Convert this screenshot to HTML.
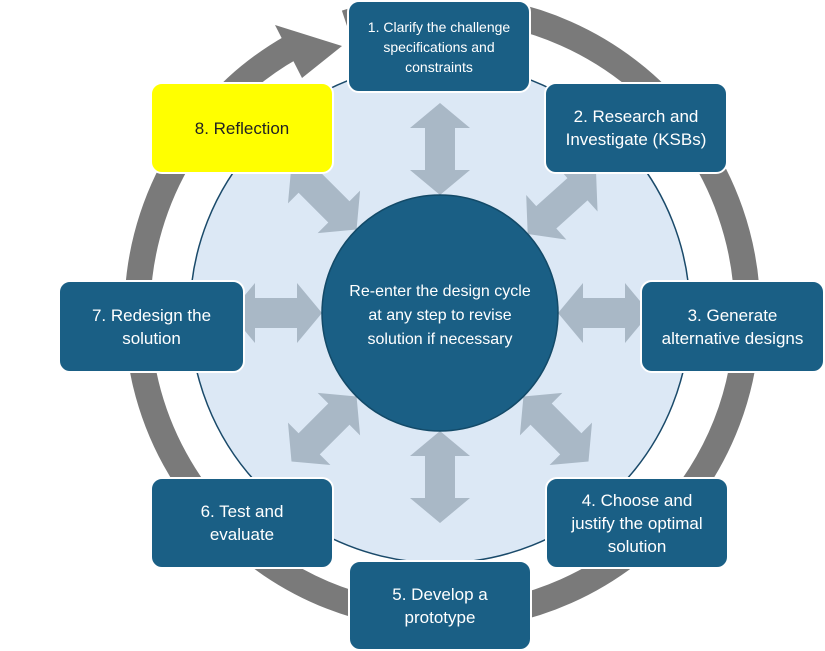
<!DOCTYPE html>
<html><head><style>
body{margin:0;width:825px;height:651px;overflow:hidden;background:#fff;font-family:"Liberation Sans",sans-serif}
.b{position:absolute;width:184px;height:88px;background:#1a5f85;border:2px solid #fff;border-radius:12px;color:#fff;display:flex;align-items:center;justify-content:center;text-align:center;font-size:17px;line-height:23px;box-sizing:border-box}
</style></head><body>
<svg width="825" height="651" style="position:absolute;left:0;top:0">
<path d="M 346 23 A 305 305 0 1 1 292 47" fill="none" stroke="#7a7a7a" stroke-width="26"/>
<polygon points="275,25 342,46 302,78" fill="#7a7a7a"/>
<circle cx="440" cy="313" r="250" fill="#dce8f5" stroke="#1a4a6a" stroke-width="1.5"/>
<g fill="#a9b8c6">
<g transform="translate(440,313)">
<g id="a"><polygon points="0,-210 30,-185 15,-185 15,-143 30,-143 0,-118 -30,-143 -15,-143 -15,-185 -30,-185"/></g>
<use href="#a" transform="rotate(48)"/>
<use href="#a" transform="rotate(90)"/>
<use href="#a" transform="rotate(135)"/>
<use href="#a" transform="rotate(180)"/>
<use href="#a" transform="rotate(225)"/>
<use href="#a" transform="rotate(270)"/>
<use href="#a" transform="rotate(315)"/>
</g></g>
<circle cx="440" cy="313" r="118" fill="#1a5f85" stroke="#134a68" stroke-width="1.5"/>
<text x="440" y="296" fill="#fff" font-size="16" text-anchor="middle">Re-enter the design cycle</text>
<text x="440" y="320" fill="#fff" font-size="16" text-anchor="middle">at any step to revise</text>
<text x="440" y="344" fill="#fff" font-size="16" text-anchor="middle">solution if necessary</text>
</svg>
<div class="b" style="left:347px;top:0;height:93px;font-size:14px;line-height:20px">1. Clarify the challenge<br>specifications and<br>constraints</div>
<div class="b" style="left:544px;top:82px;height:92px">2. Research and<br>Investigate (KSBs)</div>
<div class="b" style="left:640px;top:280px;height:93px;width:185px">3. Generate<br>alternative designs</div>
<div class="b" style="left:545px;top:477px;height:92px">4. Choose and<br>justify the optimal<br>solution</div>
<div class="b" style="left:348px;top:560px;height:91px">5. Develop a<br>prototype</div>
<div class="b" style="left:150px;top:477px;height:92px">6. Test and<br>evaluate</div>
<div class="b" style="left:58px;top:280px;height:93px;width:187px">7. Redesign the<br>solution</div>
<div class="b" style="left:150px;top:82px;height:92px;background:#ffff00;color:#222">8. Reflection</div>
</body></html>
